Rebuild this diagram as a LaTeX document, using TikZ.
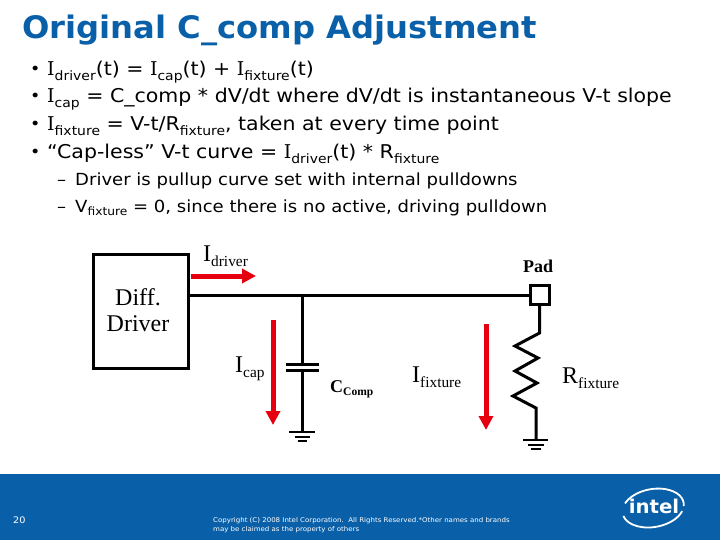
\documentclass[tikz,border=0pt]{standalone}
\usepackage{fontspec}
\setmainfont[FakeStretch=1.08]{DejaVu Sans}
\newfontfamily\titlefont[FakeStretch=1.04]{DejaVu Sans Bold}
\newfontfamily\barfont{DejaVu Serif}
\newfontfamily\circuitfont{Liberation Serif}
\usetikzlibrary{positioning, arrows.meta, calc}
\definecolor{introblue}{HTML}{0A60A8}
\definecolor{currentred}{HTML}{E6000F}
\newcommand{\lowtxt}[1]{\raisebox{-0.22em}{\scalebox{0.68}{#1}}}
\newcommand{\lowcirc}[1]{\raisebox{-0.22em}{\scalebox{0.64}{#1}}}
\newcommand{\barI}{{\barfont I}}
\newcommand{\itembullet}{\makebox[17pt][l]{\raisebox{0.08em}{\scalebox{0.85}{•}}}}
\newcommand{\itemdash}{\makebox[18pt][l]{–}}
\tikzset{
  titletext/.style={anchor=base west, inner sep=0pt, text=introblue, font=\titlefont\fontsize{31}{31}\selectfont},
  bodyline/.style={anchor=base west, inner sep=0pt, font=\fontsize{19}{19}\selectfont},
  subline/.style={anchor=base west, inner sep=0pt, font=\fontsize{16.7}{17}\selectfont},
  footnote/.style={anchor=base west, inner sep=0pt, text=white, font=\fontsize{6.5}{6.5}\selectfont},
  circuitlabel/.style={inner sep=0pt, anchor=base west, font=\circuitfont\fontsize{24}{24}\selectfont},
  wire/.style={line width=3pt},
  current/.style={line width=5pt, currentred, -{Triangle[length=14pt,width=14pt]}},
  gndbar/.style={line width=2.5pt},
  swoosh/.style={white, line width=1.8pt, rotate around={10:(653,508)}}
}
\begin{document}
\begin{tikzpicture}[x=1pt,y=-1pt]
  \useasboundingbox (0,0) rectangle (720,540);

  % Footer band
  \fill[introblue] (0,474) rectangle (720,540);
  \node (pagenum) [footnote, font=\fontsize{9}{9}\selectfont] at (13,523) {20};
  \node (copy1) [footnote] at (213,522) {Copyright (C) 2008 Intel Corporation.\ \ All Rights Reserved.*Other names and brands};
  \node (copy2) [footnote] at (213,531) {may be claimed as the property of others};

  % Logo
  \node (logo) [inner sep=0pt, text=white, font=\titlefont\fontsize{19}{19}\selectfont] at (654,506) {intel};
  \coordinate (ringcentre) at (653,508);
  \draw [swoosh] (ringcentre) ++(210:31 and 19) arc[start angle=210, end angle=370, x radius=31, y radius=19];
  \draw [swoosh] (ringcentre) ++(172:31 and 19) arc[start angle=172, end angle=25, x radius=31, y radius=19];

  % Title and bullets
  \node (title) [titletext] at (22,39) {Original C\_comp Adjustment};
  \node (line1) [bodyline] at (30,76) {\itembullet \barI\lowtxt{driver}(t) = \barI\lowtxt{cap}(t) + \barI\lowtxt{fixture}(t)};
  \node (line2) [bodyline] at (30,103) {\itembullet \barI\lowtxt{cap} = C\_comp * dV/dt where dV/dt is instantaneous V-t slope};
  \node (line3) [bodyline] at (30,131) {\itembullet \barI\lowtxt{fixture} = V-t/R\lowtxt{fixture}, taken at every time point};
  \node (line4) [bodyline] at (30,159) {\itembullet “Cap-less” V-t curve = \barI\lowtxt{driver}(t) * R\lowtxt{fixture}};
  \node (line5) [subline] at (57,186) {\itemdash Driver is pullup curve set with internal pulldowns};
  \node (line6) [subline] at (57,212) {\itemdash V\lowtxt{fixture} = 0, since there is no active, driving pulldown};

  % Driver and pad
  \node (driver) [draw, wire, minimum width=95pt, minimum height=114pt, inner sep=0pt] at (140.5,311) {};
  \node (drivertext) [inner sep=0pt, align=center, font=\circuitfont\fontsize{24}{26}\selectfont] at (138,310) {Diff.\\Driver};
  \node (pad) [draw, wire, minimum size=19pt, inner sep=0pt] at (539.5,295) {};
  \node (padlabel) [inner sep=0pt, font=\circuitfont\fontsize{18}{18}\selectfont\bfseries] at (538,266) {Pad};

  % Wire and capacitor
  \coordinate (junction) at (302,295);
  \coordinate (capup) at (302,364);
  \coordinate (capdown) at (302,370);
  \coordinate (capgnd) at (302,432);
  \draw [wire] (driver.east |- junction) -- (pad.west);
  \draw [wire] (junction) -- (capup);
  \draw [wire] (capdown) -- (capgnd);
  \draw [wire] (286,364) -- (319,364);
  \draw [wire] (286,370) -- (319,370);
  \draw [gndbar] ($(capgnd)+(-13,0)$) -- ($(capgnd)+(13,0)$);
  \draw [gndbar] ($(capgnd)+(-7.5,5)$) -- ($(capgnd)+(7.5,5)$);
  \draw [gndbar] ($(capgnd)+(-4.5,9)$) -- ($(capgnd)+(4.5,9)$);

  % Resistor
  \coordinate (resgnd) at (536,440);
  \draw [wire, line join=miter] (pad.south) -- (539.5,333) -- (515,346) -- (538,358) -- (515,371)
    -- (537,383) -- (513,396) -- (536,408) -- (resgnd);
  \draw [gndbar] ($(resgnd)+(-13,0)$) -- ($(resgnd)+(12,0)$);
  \draw [gndbar] ($(resgnd)+(-8,5)$) -- ($(resgnd)+(8,5)$);
  \draw [gndbar] ($(resgnd)+(-5,9)$) -- ($(resgnd)+(5,9)$);

  % Currents
  \coordinate (idrvstart) at (191,276);
  \coordinate (idrvend) at (256,276);
  \coordinate (icapstart) at (273,320);
  \coordinate (icapend) at (273,425);
  \coordinate (ifixstart) at (486,324);
  \coordinate (ifixend) at (486,430);
  \draw [current] (idrvstart) -- (idrvend);
  \draw [current] (icapstart) -- (icapend);
  \draw [current] (ifixstart) -- (ifixend);

  % Labels
  \node (idrvlabel) [circuitlabel] at (203,261) {I\lowcirc{driver}};
  \node (icaplabel) [circuitlabel] at (235,372) {I\lowcirc{cap}};
  \node (ifixlabel) [circuitlabel] at (412,382) {I\lowcirc{fixture}};
  \node (rfixlabel) [circuitlabel] at (562,383) {R\lowcirc{fixture}};
  \node (ccomplabel) [circuitlabel, font=\circuitfont\fontsize{18}{18}\selectfont\bfseries] at (330,392) {C\lowcirc{Comp}};
\end{tikzpicture}
\end{document}
